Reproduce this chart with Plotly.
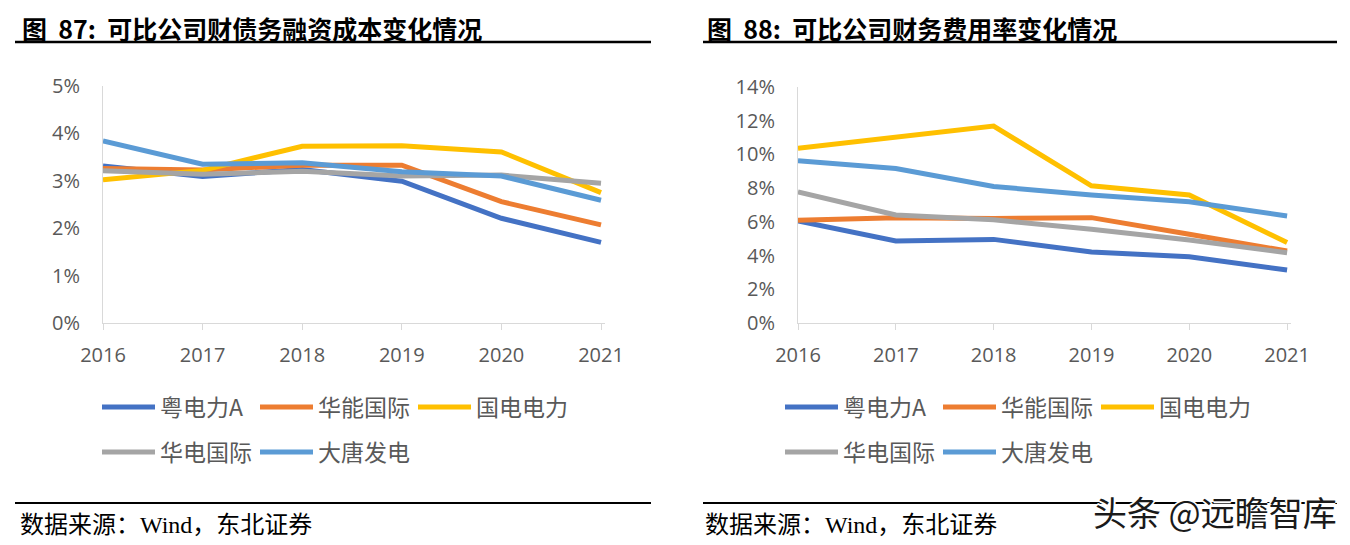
import plotly.graph_objects as go

years = ["2016", "2017", "2018", "2019", "2020", "2021"]
series_names = ["粤电力A", "华能国际", "国电电力", "华电国际", "大唐发电"]
colors = ["#4472C4", "#ED7D31", "#FFC000", "#A5A5A5", "#5B9BD5"]

# 图87: 财债务融资成本 (%)
cost_yue = [3.31, 3.09, 3.24, 2.99, 2.21, 1.70]
cost_huaneng = [3.26, 3.23, 3.33, 3.33, 2.56, 2.07]
cost_guodian = [3.02, 3.22, 3.73, 3.74, 3.61, 2.75]
cost_huadian = [3.21, 3.14, 3.20, 3.10, 3.12, 2.95]
cost_datang = [3.84, 3.35, 3.38, 3.19, 3.10, 2.59]

# 图88: 财务费用率 (%)
fee_yue = [6.06, 4.87, 4.96, 4.21, 3.93, 3.14]
fee_huaneng = [6.10, 6.25, 6.20, 6.25, 5.26, 4.27]
fee_guodian = [10.37, 11.02, 11.68, 8.14, 7.59, 4.77]
fee_huadian = [7.78, 6.41, 6.12, 5.56, 4.92, 4.17]
fee_datang = [9.63, 9.17, 8.10, 7.59, 7.19, 6.35]

left_ticks = [0, 1, 2, 3, 4, 5]
right_ticks = [0, 2, 4, 6, 8, 10, 12, 14]
left_ticktext = ["0%", "1%", "2%", "3%", "4%", "5%"]
right_ticktext = ["0%", "2%", "4%", "6%", "8%", "10%", "12%", "14%"]

title_left = "图\u00a0\u00a087:\u00a0\u00a0可比公司财债务融资成本变化情况"
title_right = "图\u00a0\u00a088:\u00a0\u00a0可比公司财务费用率变化情况"
source_text = "数据来源：Wind，东北证券"
watermark = "头条 @远瞻智库"

# page has an 8px body margin; figure is sized so it fits the window
OFF = 8
W, H = 1342, 537
def px(x):
    return (x - OFF) / W
def py(y):
    return 1 - (y - OFF) / H

fig = go.Figure()

left_data = [cost_yue, cost_huaneng, cost_guodian, cost_huadian, cost_datang]
right_data = [fee_yue, fee_huaneng, fee_guodian, fee_huadian, fee_datang]
legend_left = ["legend", "legend", "legend", "legend2", "legend2"]
legend_right = ["legend3", "legend3", "legend3", "legend4", "legend4"]

for i, name in enumerate(series_names):
    fig.add_trace(go.Scatter(
        x=years, y=left_data[i], mode="lines", name=name,
        line=dict(color=colors[i], width=5),
        xaxis="x", yaxis="y", legend=legend_left[i], hoverinfo="skip"))
for i, name in enumerate(series_names):
    fig.add_trace(go.Scatter(
        x=years, y=right_data[i], mode="lines", name=name,
        line=dict(color=colors[i], width=5),
        xaxis="x2", yaxis="y2", legend=legend_right[i], hoverinfo="skip"))

tick_font = dict(family="Open Sans, Lato, sans-serif", size=20, color="#595959")
axis_common = dict(showgrid=False, zeroline=False, showline=True,
                   linecolor="#D9D9D9", linewidth=1, tickfont=tick_font)

fig.update_layout(
    width=W, height=H,
    margin=dict(l=0, r=0, t=0, b=0, autoexpand=False),
    paper_bgcolor="white", plot_bgcolor="white",
    xaxis=dict(domain=[px(103), px(605)], anchor="y", type="category",
               range=[0, 5.04], ticks="outside", ticklen=6, tickcolor="#D9D9D9",
               ticklabelstandoff=8, **axis_common),
    yaxis=dict(domain=[py(323), py(86)], anchor="x", range=[0, 5],
               tickvals=left_ticks, ticktext=left_ticktext, ticks="",
               ticklabelstandoff=18, **axis_common),
    xaxis2=dict(domain=[px(798), px(1291)], anchor="y2", type="category",
                range=[0, 5.04], ticks="outside", ticklen=6, tickcolor="#D9D9D9",
                ticklabelstandoff=8, **axis_common),
    yaxis2=dict(domain=[py(323), py(87)], anchor="x2", range=[0, 14],
                tickvals=right_ticks, ticktext=right_ticktext, ticks="",
                ticklabelstandoff=18, **axis_common),
    showlegend=True,
)

legend_font = dict(family="Noto Sans CJK SC, sans-serif", size=23, color="#595959")
leg_common = dict(orientation="h", xanchor="left", yanchor="middle",
                  font=legend_font, itemwidth=53, entrywidth=90,
                  entrywidthmode="pixels", bgcolor="rgba(0,0,0,0)",
                  borderwidth=0, tracegroupgap=0, itemclick=False,
                  itemdoubleclick=False)
fig.update_layout(
    legend=dict(x=px(97), y=py(407), **leg_common),
    legend2=dict(x=px(97), y=py(452), **leg_common),
    legend3=dict(x=px(780), y=py(407), **leg_common),
    legend4=dict(x=px(780), y=py(452), **leg_common),
)

title_font = dict(family="Noto Sans CJK SC, sans-serif", size=25, color="#000000",
                  weight="bold")
src_font = dict(family="Liberation Serif, Noto Sans CJK SC, serif", size=24,
                color="#000000")
annotations = [
    dict(text=title_left, x=px(20), y=1, xref="paper", yref="paper",
         xanchor="left", yanchor="top", showarrow=False, font=title_font),
    dict(text=title_right, x=px(705), y=1, xref="paper", yref="paper",
         xanchor="left", yanchor="top", showarrow=False, font=title_font),
    dict(text=source_text, x=px(18), y=py(525), xref="paper", yref="paper",
         xanchor="left", yanchor="middle", showarrow=False, font=src_font),
    dict(text=source_text, x=px(703), y=py(525), xref="paper", yref="paper",
         xanchor="left", yanchor="middle", showarrow=False, font=src_font),
]
shapes = [
    dict(type="line", xref="paper", yref="paper", x0=px(15), x1=px(651),
         y0=py(42), y1=py(42), line=dict(color="#000000", width=2.5)),
    dict(type="line", xref="paper", yref="paper", x0=px(703), x1=px(1337),
         y0=py(42), y1=py(42), line=dict(color="#000000", width=2.5)),
    dict(type="line", xref="paper", yref="paper", x0=px(15), x1=px(651),
         y0=py(503), y1=py(503), line=dict(color="#000000", width=2)),
    dict(type="line", xref="paper", yref="paper", x0=px(703), x1=px(1337),
         y0=py(503), y1=py(503), line=dict(color="#000000", width=2)),
]
fig.update_layout(annotations=annotations, shapes=shapes)

# watermark drawn above the rule line
fig.add_annotation(
    text=watermark, x=px(1339), y=py(511), xref="paper", yref="paper",
    xanchor="right", yanchor="middle", showarrow=False,
    font=dict(family="Noto Sans CJK SC, sans-serif", size=34, color="#1a1a1a",
              shadow="2px 0 0 #fff, -2px 0 0 #fff, 0 2px 0 #fff, 0 -2px 0 #fff"))

fig.write_html("out.html")
